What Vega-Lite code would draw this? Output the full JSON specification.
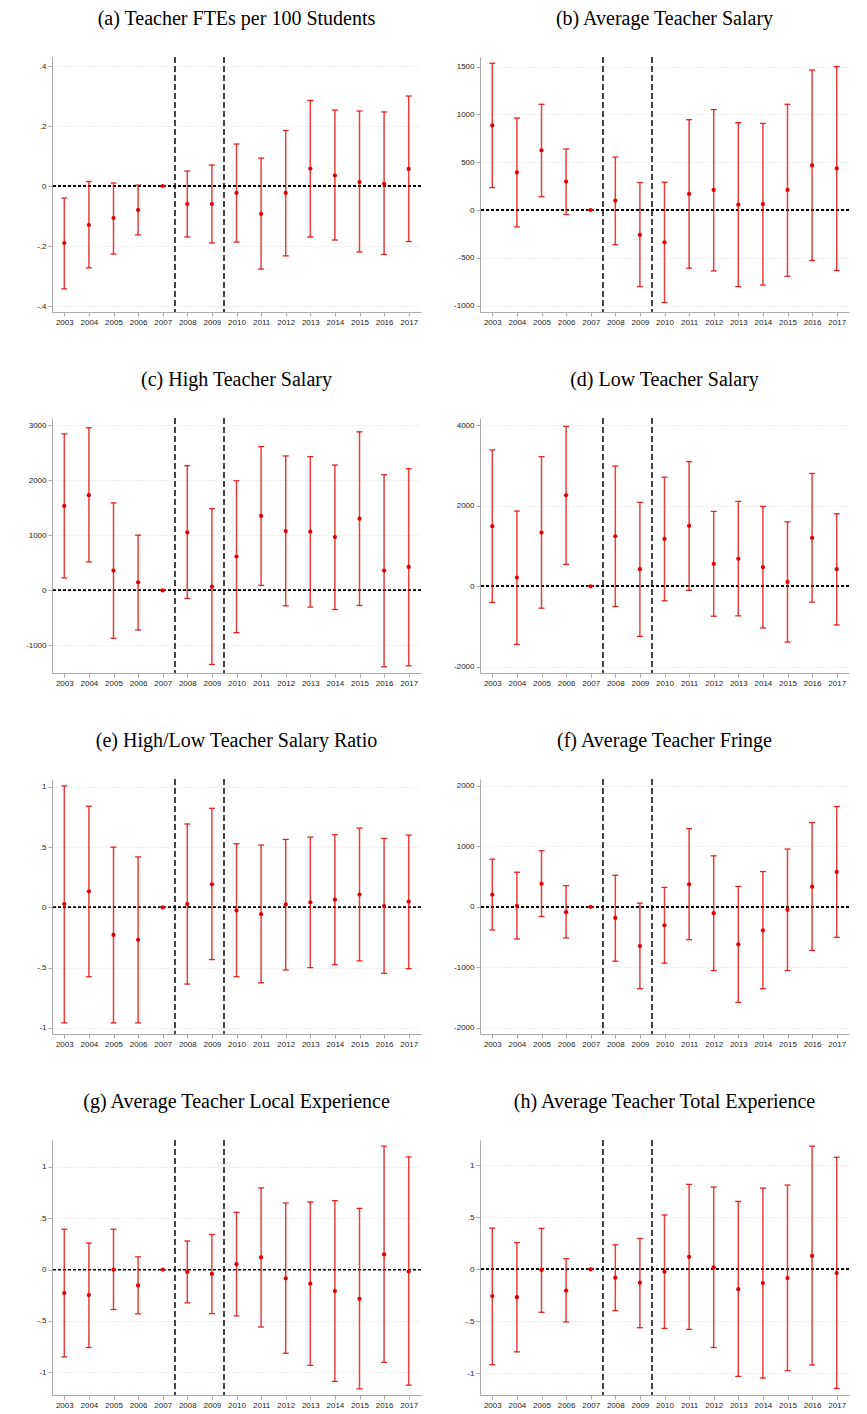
{
  "$schema": "https://vega.github.io/schema/vega-lite/v6.json",
  "padding": {"left": 25, "top": 8, "right": 4, "bottom": 2},
  "background": "white",
  "datasets": {
    "est": [
      {"panel": "a", "year": 2003, "est": -0.19, "lo": -0.343, "hi": -0.04},
      {"panel": "a", "year": 2004, "est": -0.13, "lo": -0.273, "hi": 0.015},
      {"panel": "a", "year": 2005, "est": -0.107, "lo": -0.227, "hi": 0.01},
      {"panel": "a", "year": 2006, "est": -0.08, "lo": -0.163, "hi": 0.003},
      {"panel": "a", "year": 2007, "est": 0, "lo": 0, "hi": 0},
      {"panel": "a", "year": 2008, "est": -0.06, "lo": -0.17, "hi": 0.05},
      {"panel": "a", "year": 2009, "est": -0.06, "lo": -0.19, "hi": 0.07},
      {"panel": "a", "year": 2010, "est": -0.023, "lo": -0.187, "hi": 0.14},
      {"panel": "a", "year": 2011, "est": -0.093, "lo": -0.277, "hi": 0.093},
      {"panel": "a", "year": 2012, "est": -0.023, "lo": -0.233, "hi": 0.185},
      {"panel": "a", "year": 2013, "est": 0.058, "lo": -0.17, "hi": 0.285},
      {"panel": "a", "year": 2014, "est": 0.035, "lo": -0.18, "hi": 0.253},
      {"panel": "a", "year": 2015, "est": 0.013, "lo": -0.22, "hi": 0.25},
      {"panel": "a", "year": 2016, "est": 0.007, "lo": -0.228, "hi": 0.247},
      {"panel": "a", "year": 2017, "est": 0.057, "lo": -0.185, "hi": 0.3},

      {"panel": "b", "year": 2003, "est": 885, "lo": 235, "hi": 1535},
      {"panel": "b", "year": 2004, "est": 393, "lo": -176, "hi": 962},
      {"panel": "b", "year": 2005, "est": 625, "lo": 140, "hi": 1106},
      {"panel": "b", "year": 2006, "est": 298, "lo": -46, "hi": 639},
      {"panel": "b", "year": 2007, "est": 0, "lo": 0, "hi": 0},
      {"panel": "b", "year": 2008, "est": 98, "lo": -362, "hi": 555},
      {"panel": "b", "year": 2009, "est": -260, "lo": -800, "hi": 288},
      {"panel": "b", "year": 2010, "est": -337, "lo": -966, "hi": 291},
      {"panel": "b", "year": 2011, "est": 169, "lo": -607, "hi": 945},
      {"panel": "b", "year": 2012, "est": 211, "lo": -636, "hi": 1050},
      {"panel": "b", "year": 2013, "est": 56, "lo": -800, "hi": 913},
      {"panel": "b", "year": 2014, "est": 63, "lo": -783, "hi": 906},
      {"panel": "b", "year": 2015, "est": 211, "lo": -692, "hi": 1106},
      {"panel": "b", "year": 2016, "est": 467, "lo": -527, "hi": 1464},
      {"panel": "b", "year": 2017, "est": 435, "lo": -632, "hi": 1500},

      {"panel": "c", "year": 2003, "est": 1534, "lo": 225, "hi": 2842},
      {"panel": "c", "year": 2004, "est": 1729, "lo": 517, "hi": 2952},
      {"panel": "c", "year": 2005, "est": 359, "lo": -870, "hi": 1589},
      {"panel": "c", "year": 2006, "est": 146, "lo": -718, "hi": 1004},
      {"panel": "c", "year": 2007, "est": 0, "lo": 0, "hi": 0},
      {"panel": "c", "year": 2008, "est": 1053, "lo": -146, "hi": 2264},
      {"panel": "c", "year": 2009, "est": 67, "lo": -1345, "hi": 1485},
      {"panel": "c", "year": 2010, "est": 615, "lo": -767, "hi": 1990},
      {"panel": "c", "year": 2011, "est": 1351, "lo": 91, "hi": 2611},
      {"panel": "c", "year": 2012, "est": 1077, "lo": -280, "hi": 2441},
      {"panel": "c", "year": 2013, "est": 1065, "lo": -304, "hi": 2428},
      {"panel": "c", "year": 2014, "est": 968, "lo": -347, "hi": 2276},
      {"panel": "c", "year": 2015, "est": 1302, "lo": -274, "hi": 2879},
      {"panel": "c", "year": 2016, "est": 359, "lo": -1388, "hi": 2100},
      {"panel": "c", "year": 2017, "est": 426, "lo": -1369, "hi": 2209},

      {"panel": "d", "year": 2003, "est": 1492, "lo": -400, "hi": 3383},
      {"panel": "d", "year": 2004, "est": 217, "lo": -1442, "hi": 1867},
      {"panel": "d", "year": 2005, "est": 1333, "lo": -542, "hi": 3217},
      {"panel": "d", "year": 2006, "est": 2258, "lo": 542, "hi": 3967},
      {"panel": "d", "year": 2007, "est": 0, "lo": 0, "hi": 0},
      {"panel": "d", "year": 2008, "est": 1242, "lo": -500, "hi": 2983},
      {"panel": "d", "year": 2009, "est": 425, "lo": -1242, "hi": 2083},
      {"panel": "d", "year": 2010, "est": 1175, "lo": -358, "hi": 2708},
      {"panel": "d", "year": 2011, "est": 1500, "lo": -100, "hi": 3092},
      {"panel": "d", "year": 2012, "est": 558, "lo": -742, "hi": 1858},
      {"panel": "d", "year": 2013, "est": 683, "lo": -733, "hi": 2108},
      {"panel": "d", "year": 2014, "est": 475, "lo": -1033, "hi": 1983},
      {"panel": "d", "year": 2015, "est": 108, "lo": -1383, "hi": 1600},
      {"panel": "d", "year": 2016, "est": 1200, "lo": -392, "hi": 2800},
      {"panel": "d", "year": 2017, "est": 425, "lo": -958, "hi": 1800},

      {"panel": "e", "year": 2003, "est": 0.028, "lo": -0.958, "hi": 1.008},
      {"panel": "e", "year": 2004, "est": 0.133, "lo": -0.575, "hi": 0.839},
      {"panel": "e", "year": 2005, "est": -0.228, "lo": -0.958, "hi": 0.5},
      {"panel": "e", "year": 2006, "est": -0.269, "lo": -0.958, "hi": 0.419},
      {"panel": "e", "year": 2007, "est": 0, "lo": 0, "hi": 0},
      {"panel": "e", "year": 2008, "est": 0.028, "lo": -0.636, "hi": 0.692},
      {"panel": "e", "year": 2009, "est": 0.192, "lo": -0.433, "hi": 0.822},
      {"panel": "e", "year": 2010, "est": -0.025, "lo": -0.575, "hi": 0.528},
      {"panel": "e", "year": 2011, "est": -0.056, "lo": -0.625, "hi": 0.517},
      {"panel": "e", "year": 2012, "est": 0.025, "lo": -0.519, "hi": 0.564},
      {"panel": "e", "year": 2013, "est": 0.042, "lo": -0.5, "hi": 0.583},
      {"panel": "e", "year": 2014, "est": 0.064, "lo": -0.475, "hi": 0.603},
      {"panel": "e", "year": 2015, "est": 0.106, "lo": -0.444, "hi": 0.658},
      {"panel": "e", "year": 2016, "est": 0.011, "lo": -0.547, "hi": 0.572},
      {"panel": "e", "year": 2017, "est": 0.047, "lo": -0.508, "hi": 0.6},

      {"panel": "f", "year": 2003, "est": 199, "lo": -382, "hi": 787},
      {"panel": "f", "year": 2004, "est": 17, "lo": -532, "hi": 571},
      {"panel": "f", "year": 2005, "est": 382, "lo": -161, "hi": 925},
      {"panel": "f", "year": 2006, "est": -89, "lo": -515, "hi": 349},
      {"panel": "f", "year": 2007, "est": 0, "lo": 0, "hi": 0},
      {"panel": "f", "year": 2008, "est": -183, "lo": -898, "hi": 521},
      {"panel": "f", "year": 2009, "est": -648, "lo": -1352, "hi": 61},
      {"panel": "f", "year": 2010, "est": -305, "lo": -931, "hi": 321},
      {"panel": "f", "year": 2011, "est": 371, "lo": -543, "hi": 1291},
      {"panel": "f", "year": 2012, "est": -105, "lo": -1053, "hi": 842},
      {"panel": "f", "year": 2013, "est": -620, "lo": -1579, "hi": 338},
      {"panel": "f", "year": 2014, "est": -388, "lo": -1352, "hi": 582},
      {"panel": "f", "year": 2015, "est": -50, "lo": -1053, "hi": 953},
      {"panel": "f", "year": 2016, "est": 332, "lo": -720, "hi": 1391},
      {"panel": "f", "year": 2017, "est": 576, "lo": -504, "hi": 1657},

      {"panel": "g", "year": 2003, "est": -0.229, "lo": -0.85, "hi": 0.392},
      {"panel": "g", "year": 2004, "est": -0.248, "lo": -0.758, "hi": 0.258},
      {"panel": "g", "year": 2005, "est": 0, "lo": -0.389, "hi": 0.392},
      {"panel": "g", "year": 2006, "est": -0.154, "lo": -0.431, "hi": 0.124},
      {"panel": "g", "year": 2007, "est": 0, "lo": 0, "hi": 0},
      {"panel": "g", "year": 2008, "est": -0.023, "lo": -0.324, "hi": 0.278},
      {"panel": "g", "year": 2009, "est": -0.042, "lo": -0.428, "hi": 0.34},
      {"panel": "g", "year": 2010, "est": 0.052, "lo": -0.451, "hi": 0.556},
      {"panel": "g", "year": 2011, "est": 0.118, "lo": -0.559, "hi": 0.794},
      {"panel": "g", "year": 2012, "est": -0.085, "lo": -0.814, "hi": 0.647},
      {"panel": "g", "year": 2013, "est": -0.137, "lo": -0.931, "hi": 0.657},
      {"panel": "g", "year": 2014, "est": -0.209, "lo": -1.088, "hi": 0.67},
      {"panel": "g", "year": 2015, "est": -0.284, "lo": -1.16, "hi": 0.595},
      {"panel": "g", "year": 2016, "est": 0.147, "lo": -0.902, "hi": 1.2},
      {"panel": "g", "year": 2017, "est": -0.02, "lo": -1.124, "hi": 1.095},

      {"panel": "h", "year": 2003, "est": -0.258, "lo": -0.918, "hi": 0.397},
      {"panel": "h", "year": 2004, "est": -0.268, "lo": -0.795, "hi": 0.258},
      {"panel": "h", "year": 2005, "est": -0.006, "lo": -0.414, "hi": 0.394},
      {"panel": "h", "year": 2006, "est": -0.204, "lo": -0.507, "hi": 0.103},
      {"panel": "h", "year": 2007, "est": 0, "lo": 0, "hi": 0},
      {"panel": "h", "year": 2008, "est": -0.081, "lo": -0.397, "hi": 0.236},
      {"panel": "h", "year": 2009, "est": -0.129, "lo": -0.562, "hi": 0.297},
      {"panel": "h", "year": 2010, "est": -0.023, "lo": -0.569, "hi": 0.523},
      {"panel": "h", "year": 2011, "est": 0.12, "lo": -0.578, "hi": 0.818},
      {"panel": "h", "year": 2012, "est": 0.019, "lo": -0.753, "hi": 0.792},
      {"panel": "h", "year": 2013, "est": -0.191, "lo": -1.031, "hi": 0.653},
      {"panel": "h", "year": 2014, "est": -0.132, "lo": -1.047, "hi": 0.782},
      {"panel": "h", "year": 2015, "est": -0.084, "lo": -0.976, "hi": 0.811},
      {"panel": "h", "year": 2016, "est": 0.129, "lo": -0.921, "hi": 1.186},
      {"panel": "h", "year": 2017, "est": -0.036, "lo": -1.147, "hi": 1.079}
    ]
  },
  "columns": 2,
  "spacing": {"row": 43, "column": 31},
  "concat": [
    {
      "title": "(a) Teacher FTEs per 100 Students",
      "width": 369, "height": 255,
      "data": {"name": "est"},
      "transform": [{"filter": "datum.panel == 'a'"}],
      "encoding": {
        "x": {"field": "year", "type": "quantitative", "scale": {"domain": [2002.5, 2017.5], "nice": false}, "axis": {"values": [2003,2004,2005,2006,2007,2008,2009,2010,2011,2012,2013,2014,2015,2016,2017], "format": "d", "title": null, "grid": false}},
        "y": {"field": "est", "type": "quantitative", "scale": {"domain": [-0.42, 0.43], "nice": false, "zero": false}, "axis": {"values": [-0.4, -0.2, 0, 0.2, 0.4], "title": null, "labelExpr": "replace(toString(datum.value), '0.', '.')"}}
      },
      "layer": [
        {"mark": {"type": "rule", "strokeDash": [6, 3], "color": "#444", "strokeWidth": 1}, "encoding": {"x": {"datum": 2007.5}, "y": null}},
        {"mark": {"type": "rule", "strokeDash": [6, 3], "color": "#444", "strokeWidth": 1}, "encoding": {"x": {"datum": 2009.5}, "y": null}},
        {"mark": {"type": "rule", "strokeDash": [3, 2], "color": "#000", "strokeWidth": 0.8}, "encoding": {"y": {"datum": 0}, "x": null}},
        {"mark": {"type": "rule", "color": "#e01010", "strokeWidth": 1.5, "opacity": 0.8}, "encoding": {"y": {"field": "lo", "type": "quantitative"}, "y2": {"field": "hi"}}},
        {"mark": {"type": "tick", "orient": "horizontal", "color": "#e01010", "size": 6, "thickness": 1.3, "opacity": 0.9}, "encoding": {"y": {"field": "lo", "type": "quantitative"}}},
        {"mark": {"type": "tick", "orient": "horizontal", "color": "#e01010", "size": 6, "thickness": 1.3, "opacity": 0.9}, "encoding": {"y": {"field": "hi", "type": "quantitative"}}},
        {"mark": {"type": "point", "shape": "circle", "filled": true, "color": "#e00000", "size": 18, "opacity": 1}}
      ]
    },
    {
      "title": "(b) Average Teacher Salary",
      "width": 369, "height": 255,
      "data": {"name": "est"},
      "transform": [{"filter": "datum.panel == 'b'"}],
      "encoding": {
        "x": {"field": "year", "type": "quantitative", "scale": {"domain": [2002.5, 2017.5], "nice": false}, "axis": {"values": [2003,2004,2005,2006,2007,2008,2009,2010,2011,2012,2013,2014,2015,2016,2017], "format": "d", "title": null, "grid": false}},
        "y": {"field": "est", "type": "quantitative", "scale": {"domain": [-1065, 1600], "nice": false, "zero": false}, "axis": {"values": [-1000, -500, 0, 500, 1000, 1500], "title": null, "labelExpr": "replace(toString(datum.value), '0.', '.')"}}
      },
      "layer": [
        {"mark": {"type": "rule", "strokeDash": [6, 3], "color": "#444", "strokeWidth": 1}, "encoding": {"x": {"datum": 2007.5}, "y": null}},
        {"mark": {"type": "rule", "strokeDash": [6, 3], "color": "#444", "strokeWidth": 1}, "encoding": {"x": {"datum": 2009.5}, "y": null}},
        {"mark": {"type": "rule", "strokeDash": [3, 2], "color": "#000", "strokeWidth": 0.8}, "encoding": {"y": {"datum": 0}, "x": null}},
        {"mark": {"type": "rule", "color": "#e01010", "strokeWidth": 1.5, "opacity": 0.8}, "encoding": {"y": {"field": "lo", "type": "quantitative"}, "y2": {"field": "hi"}}},
        {"mark": {"type": "tick", "orient": "horizontal", "color": "#e01010", "size": 6, "thickness": 1.3, "opacity": 0.9}, "encoding": {"y": {"field": "lo", "type": "quantitative"}}},
        {"mark": {"type": "tick", "orient": "horizontal", "color": "#e01010", "size": 6, "thickness": 1.3, "opacity": 0.9}, "encoding": {"y": {"field": "hi", "type": "quantitative"}}},
        {"mark": {"type": "point", "shape": "circle", "filled": true, "color": "#e00000", "size": 18, "opacity": 1}}
      ]
    },
    {
      "title": "(c) High Teacher Salary",
      "width": 369, "height": 255,
      "data": {"name": "est"},
      "transform": [{"filter": "datum.panel == 'c'"}],
      "encoding": {
        "x": {"field": "year", "type": "quantitative", "scale": {"domain": [2002.5, 2017.5], "nice": false}, "axis": {"values": [2003,2004,2005,2006,2007,2008,2009,2010,2011,2012,2013,2014,2015,2016,2017], "format": "d", "title": null, "grid": false}},
        "y": {"field": "est", "type": "quantitative", "scale": {"domain": [-1500, 3130], "nice": false, "zero": false}, "axis": {"values": [-1000, 0, 1000, 2000, 3000], "title": null, "labelExpr": "replace(toString(datum.value), '0.', '.')"}}
      },
      "layer": [
        {"mark": {"type": "rule", "strokeDash": [6, 3], "color": "#444", "strokeWidth": 1}, "encoding": {"x": {"datum": 2007.5}, "y": null}},
        {"mark": {"type": "rule", "strokeDash": [6, 3], "color": "#444", "strokeWidth": 1}, "encoding": {"x": {"datum": 2009.5}, "y": null}},
        {"mark": {"type": "rule", "strokeDash": [3, 2], "color": "#000", "strokeWidth": 0.8}, "encoding": {"y": {"datum": 0}, "x": null}},
        {"mark": {"type": "rule", "color": "#e01010", "strokeWidth": 1.5, "opacity": 0.8}, "encoding": {"y": {"field": "lo", "type": "quantitative"}, "y2": {"field": "hi"}}},
        {"mark": {"type": "tick", "orient": "horizontal", "color": "#e01010", "size": 6, "thickness": 1.3, "opacity": 0.9}, "encoding": {"y": {"field": "lo", "type": "quantitative"}}},
        {"mark": {"type": "tick", "orient": "horizontal", "color": "#e01010", "size": 6, "thickness": 1.3, "opacity": 0.9}, "encoding": {"y": {"field": "hi", "type": "quantitative"}}},
        {"mark": {"type": "point", "shape": "circle", "filled": true, "color": "#e00000", "size": 18, "opacity": 1}}
      ]
    },
    {
      "title": "(d) Low Teacher Salary",
      "width": 369, "height": 255,
      "data": {"name": "est"},
      "transform": [{"filter": "datum.panel == 'd'"}],
      "encoding": {
        "x": {"field": "year", "type": "quantitative", "scale": {"domain": [2002.5, 2017.5], "nice": false}, "axis": {"values": [2003,2004,2005,2006,2007,2008,2009,2010,2011,2012,2013,2014,2015,2016,2017], "format": "d", "title": null, "grid": false}},
        "y": {"field": "est", "type": "quantitative", "scale": {"domain": [-2150, 4175], "nice": false, "zero": false}, "axis": {"values": [-2000, 0, 2000, 4000], "title": null, "labelExpr": "replace(toString(datum.value), '0.', '.')"}}
      },
      "layer": [
        {"mark": {"type": "rule", "strokeDash": [6, 3], "color": "#444", "strokeWidth": 1}, "encoding": {"x": {"datum": 2007.5}, "y": null}},
        {"mark": {"type": "rule", "strokeDash": [6, 3], "color": "#444", "strokeWidth": 1}, "encoding": {"x": {"datum": 2009.5}, "y": null}},
        {"mark": {"type": "rule", "strokeDash": [3, 2], "color": "#000", "strokeWidth": 0.8}, "encoding": {"y": {"datum": 0}, "x": null}},
        {"mark": {"type": "rule", "color": "#e01010", "strokeWidth": 1.5, "opacity": 0.8}, "encoding": {"y": {"field": "lo", "type": "quantitative"}, "y2": {"field": "hi"}}},
        {"mark": {"type": "tick", "orient": "horizontal", "color": "#e01010", "size": 6, "thickness": 1.3, "opacity": 0.9}, "encoding": {"y": {"field": "lo", "type": "quantitative"}}},
        {"mark": {"type": "tick", "orient": "horizontal", "color": "#e01010", "size": 6, "thickness": 1.3, "opacity": 0.9}, "encoding": {"y": {"field": "hi", "type": "quantitative"}}},
        {"mark": {"type": "point", "shape": "circle", "filled": true, "color": "#e00000", "size": 18, "opacity": 1}}
      ]
    },
    {
      "title": "(e) High/Low Teacher Salary Ratio",
      "width": 369, "height": 255,
      "data": {"name": "est"},
      "transform": [{"filter": "datum.panel == 'e'"}],
      "encoding": {
        "x": {"field": "year", "type": "quantitative", "scale": {"domain": [2002.5, 2017.5], "nice": false}, "axis": {"values": [2003,2004,2005,2006,2007,2008,2009,2010,2011,2012,2013,2014,2015,2016,2017], "format": "d", "title": null, "grid": false}},
        "y": {"field": "est", "type": "quantitative", "scale": {"domain": [-1.05, 1.065], "nice": false, "zero": false}, "axis": {"values": [-1, -0.5, 0, 0.5, 1], "title": null, "labelExpr": "replace(toString(datum.value), '0.', '.')"}}
      },
      "layer": [
        {"mark": {"type": "rule", "strokeDash": [6, 3], "color": "#444", "strokeWidth": 1}, "encoding": {"x": {"datum": 2007.5}, "y": null}},
        {"mark": {"type": "rule", "strokeDash": [6, 3], "color": "#444", "strokeWidth": 1}, "encoding": {"x": {"datum": 2009.5}, "y": null}},
        {"mark": {"type": "rule", "strokeDash": [3, 2], "color": "#000", "strokeWidth": 0.8}, "encoding": {"y": {"datum": 0}, "x": null}},
        {"mark": {"type": "rule", "color": "#e01010", "strokeWidth": 1.5, "opacity": 0.8}, "encoding": {"y": {"field": "lo", "type": "quantitative"}, "y2": {"field": "hi"}}},
        {"mark": {"type": "tick", "orient": "horizontal", "color": "#e01010", "size": 6, "thickness": 1.3, "opacity": 0.9}, "encoding": {"y": {"field": "lo", "type": "quantitative"}}},
        {"mark": {"type": "tick", "orient": "horizontal", "color": "#e01010", "size": 6, "thickness": 1.3, "opacity": 0.9}, "encoding": {"y": {"field": "hi", "type": "quantitative"}}},
        {"mark": {"type": "point", "shape": "circle", "filled": true, "color": "#e00000", "size": 18, "opacity": 1}}
      ]
    },
    {
      "title": "(f) Average Teacher Fringe",
      "width": 369, "height": 255,
      "data": {"name": "est"},
      "transform": [{"filter": "datum.panel == 'f'"}],
      "encoding": {
        "x": {"field": "year", "type": "quantitative", "scale": {"domain": [2002.5, 2017.5], "nice": false}, "axis": {"values": [2003,2004,2005,2006,2007,2008,2009,2010,2011,2012,2013,2014,2015,2016,2017], "format": "d", "title": null, "grid": false}},
        "y": {"field": "est", "type": "quantitative", "scale": {"domain": [-2100, 2110], "nice": false, "zero": false}, "axis": {"values": [-2000, -1000, 0, 1000, 2000], "title": null, "labelExpr": "replace(toString(datum.value), '0.', '.')"}}
      },
      "layer": [
        {"mark": {"type": "rule", "strokeDash": [6, 3], "color": "#444", "strokeWidth": 1}, "encoding": {"x": {"datum": 2007.5}, "y": null}},
        {"mark": {"type": "rule", "strokeDash": [6, 3], "color": "#444", "strokeWidth": 1}, "encoding": {"x": {"datum": 2009.5}, "y": null}},
        {"mark": {"type": "rule", "strokeDash": [3, 2], "color": "#000", "strokeWidth": 0.8}, "encoding": {"y": {"datum": 0}, "x": null}},
        {"mark": {"type": "rule", "color": "#e01010", "strokeWidth": 1.5, "opacity": 0.8}, "encoding": {"y": {"field": "lo", "type": "quantitative"}, "y2": {"field": "hi"}}},
        {"mark": {"type": "tick", "orient": "horizontal", "color": "#e01010", "size": 6, "thickness": 1.3, "opacity": 0.9}, "encoding": {"y": {"field": "lo", "type": "quantitative"}}},
        {"mark": {"type": "tick", "orient": "horizontal", "color": "#e01010", "size": 6, "thickness": 1.3, "opacity": 0.9}, "encoding": {"y": {"field": "hi", "type": "quantitative"}}},
        {"mark": {"type": "point", "shape": "circle", "filled": true, "color": "#e00000", "size": 18, "opacity": 1}}
      ]
    },
    {
      "title": "(g) Average Teacher Local Experience",
      "width": 369, "height": 255,
      "data": {"name": "est"},
      "transform": [{"filter": "datum.panel == 'g'"}],
      "encoding": {
        "x": {"field": "year", "type": "quantitative", "scale": {"domain": [2002.5, 2017.5], "nice": false}, "axis": {"values": [2003,2004,2005,2006,2007,2008,2009,2010,2011,2012,2013,2014,2015,2016,2017], "format": "d", "title": null, "grid": false}},
        "y": {"field": "est", "type": "quantitative", "scale": {"domain": [-1.22, 1.26], "nice": false, "zero": false}, "axis": {"values": [-1, -0.5, 0, 0.5, 1], "title": null, "labelExpr": "replace(toString(datum.value), '0.', '.')"}}
      },
      "layer": [
        {"mark": {"type": "rule", "strokeDash": [6, 3], "color": "#444", "strokeWidth": 1}, "encoding": {"x": {"datum": 2007.5}, "y": null}},
        {"mark": {"type": "rule", "strokeDash": [6, 3], "color": "#444", "strokeWidth": 1}, "encoding": {"x": {"datum": 2009.5}, "y": null}},
        {"mark": {"type": "rule", "strokeDash": [3, 2], "color": "#000", "strokeWidth": 0.8}, "encoding": {"y": {"datum": 0}, "x": null}},
        {"mark": {"type": "rule", "color": "#e01010", "strokeWidth": 1.5, "opacity": 0.8}, "encoding": {"y": {"field": "lo", "type": "quantitative"}, "y2": {"field": "hi"}}},
        {"mark": {"type": "tick", "orient": "horizontal", "color": "#e01010", "size": 6, "thickness": 1.3, "opacity": 0.9}, "encoding": {"y": {"field": "lo", "type": "quantitative"}}},
        {"mark": {"type": "tick", "orient": "horizontal", "color": "#e01010", "size": 6, "thickness": 1.3, "opacity": 0.9}, "encoding": {"y": {"field": "hi", "type": "quantitative"}}},
        {"mark": {"type": "point", "shape": "circle", "filled": true, "color": "#e00000", "size": 18, "opacity": 1}}
      ]
    },
    {
      "title": "(h) Average Teacher Total Experience",
      "width": 369, "height": 255,
      "data": {"name": "est"},
      "transform": [{"filter": "datum.panel == 'h'"}],
      "encoding": {
        "x": {"field": "year", "type": "quantitative", "scale": {"domain": [2002.5, 2017.5], "nice": false}, "axis": {"values": [2003,2004,2005,2006,2007,2008,2009,2010,2011,2012,2013,2014,2015,2016,2017], "format": "d", "title": null, "grid": false}},
        "y": {"field": "est", "type": "quantitative", "scale": {"domain": [-1.21, 1.245], "nice": false, "zero": false}, "axis": {"values": [-1, -0.5, 0, 0.5, 1], "title": null, "labelExpr": "replace(toString(datum.value), '0.', '.')"}}
      },
      "layer": [
        {"mark": {"type": "rule", "strokeDash": [6, 3], "color": "#444", "strokeWidth": 1}, "encoding": {"x": {"datum": 2007.5}, "y": null}},
        {"mark": {"type": "rule", "strokeDash": [6, 3], "color": "#444", "strokeWidth": 1}, "encoding": {"x": {"datum": 2009.5}, "y": null}},
        {"mark": {"type": "rule", "strokeDash": [3, 2], "color": "#000", "strokeWidth": 0.8}, "encoding": {"y": {"datum": 0}, "x": null}},
        {"mark": {"type": "rule", "color": "#e01010", "strokeWidth": 1.5, "opacity": 0.8}, "encoding": {"y": {"field": "lo", "type": "quantitative"}, "y2": {"field": "hi"}}},
        {"mark": {"type": "tick", "orient": "horizontal", "color": "#e01010", "size": 6, "thickness": 1.3, "opacity": 0.9}, "encoding": {"y": {"field": "lo", "type": "quantitative"}}},
        {"mark": {"type": "tick", "orient": "horizontal", "color": "#e01010", "size": 6, "thickness": 1.3, "opacity": 0.9}, "encoding": {"y": {"field": "hi", "type": "quantitative"}}},
        {"mark": {"type": "point", "shape": "circle", "filled": true, "color": "#e00000", "size": 18, "opacity": 1}}
      ]
    }
  ],
  "config": {
    "view": {"stroke": null},
    "title": {"font": "Liberation Serif", "fontSize": 20, "fontWeight": "normal", "color": "#000", "offset": 28},
    "axis": {
      "labelFont": "Liberation Sans", "labelFontSize": 8, "labelColor": "#222",
      "domainColor": "#aaa", "tickColor": "#aaa", "tickSize": 4, "labelPadding": 2
    },
    "axisX": {"labelAngle": 0},
    "axisY": {"grid": true, "gridColor": "#ddd", "gridDash": [1, 2], "domain": true}
  }
}
